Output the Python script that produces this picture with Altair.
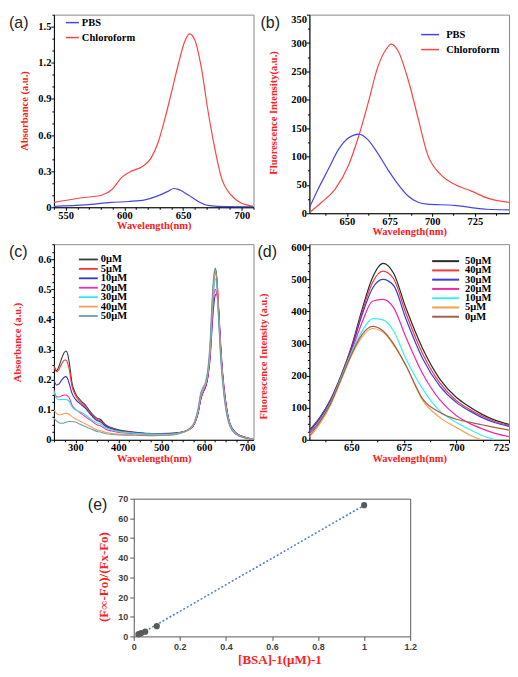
import altair as alt
import pandas as pd

SERIF = "Liberation Serif"
SANS = "Liberation Sans"
TITLE_RED = "#ff2020"
BLUE = "#4646e6"
RED = "#fb4646"

# ---------------- (a) absorbance, PBS vs chloroform ----------------
a_chl_wl = [540, 561, 581, 589.5, 598, 606, 615, 622, 629, 634.5, 640, 646, 651, 655.5, 660, 665.5, 671, 677, 682.5, 691, 699.5, 710]
a_chl = [0.040, 0.075, 0.102, 0.148, 0.25, 0.30, 0.336, 0.398, 0.546, 0.734, 0.949, 1.19, 1.366, 1.44, 1.39, 1.164, 0.814, 0.49, 0.25, 0.10, 0.035, 0.008]
a_pbs_wl = [540, 567, 589, 603.5, 617.5, 629, 637.5, 642, 646, 654.5, 663, 671, 688, 710]
a_pbs = [0.008, 0.019, 0.040, 0.048, 0.062, 0.097, 0.134, 0.156, 0.148, 0.102, 0.048, 0.016, 0.005, 0.003]
a_names = ["PBS", "Chloroform"]
a_colors = [BLUE, RED]

# ---------------- (b) fluorescence, PBS vs chloroform ----------------
b_chl_wl = [628, 635, 643, 651, 657, 662.5, 668, 673, 676, 680, 686, 692, 697, 705, 713, 723, 732, 745]
b_chl = [1, 19, 42, 85, 137, 195, 257, 289, 298, 286, 234, 164, 106, 68, 51, 39, 27, 19]
b_pbs_wl = [628, 633, 639, 645, 651, 657, 662.5, 668, 674, 680, 686, 692, 697, 713, 723, 732, 745]
b_pbs = [10, 42, 77, 112, 133, 139.5, 129, 106, 77, 51, 30, 19, 16, 14, 10, 7, 6]

# ---------------- (c) absorbance vs BSA concentration ----------------
c_wl_uv = [250, 256, 262, 268, 274, 278, 282, 286, 292, 300, 311, 323, 338, 350, 358, 370, 385, 400, 440, 480]
c_wl_vis = [520, 545, 565, 578, 586, 592, 598, 604, 609, 614, 618, 622, 626, 630, 634, 638, 643, 650, 660, 675, 695, 715]
c_0uM = [0.249, 0.23, 0.245, 0.27, 0.29, 0.295, 0.285, 0.255, 0.19, 0.155, 0.133, 0.116, 0.088, 0.072, 0.068, 0.05, 0.04, 0.033, 0.025, 0.021,
         0.022, 0.025, 0.035, 0.055, 0.09, 0.135, 0.16, 0.18, 0.22, 0.30, 0.41, 0.52, 0.57, 0.53, 0.42, 0.31, 0.21, 0.12, 0.05, 0.02, 0.008, 0.002]
c_5uM = [0.243, 0.226, 0.235, 0.252, 0.264, 0.265, 0.255, 0.232, 0.178, 0.148, 0.127, 0.11, 0.084, 0.068, 0.064, 0.047, 0.038, 0.031, 0.024, 0.02,
         0.02, 0.024, 0.034, 0.055, 0.09, 0.135, 0.16, 0.18, 0.215, 0.29, 0.40, 0.50, 0.555, 0.53, 0.43, 0.32, 0.215, 0.125, 0.052, 0.021, 0.008, 0.002]
c_10uM = [0.199, 0.182, 0.186, 0.198, 0.208, 0.21, 0.203, 0.185, 0.155, 0.135, 0.12, 0.105, 0.08, 0.064, 0.06, 0.045, 0.036, 0.03, 0.023, 0.02,
          0.02, 0.024, 0.034, 0.055, 0.09, 0.135, 0.16, 0.178, 0.21, 0.27, 0.36, 0.44, 0.48, 0.485, 0.43, 0.33, 0.225, 0.13, 0.055, 0.022, 0.008, 0.002]
c_20uM = [0.166, 0.144, 0.142, 0.146, 0.149, 0.149, 0.145, 0.138, 0.116, 0.102, 0.09, 0.077, 0.062, 0.05, 0.047, 0.036, 0.029, 0.025, 0.02, 0.018,
          0.018, 0.023, 0.034, 0.056, 0.092, 0.138, 0.162, 0.182, 0.215, 0.28, 0.38, 0.47, 0.50, 0.48, 0.41, 0.31, 0.215, 0.125, 0.053, 0.021, 0.008, 0.002]
c_30uM = [0.16, 0.138, 0.133, 0.134, 0.134, 0.134, 0.132, 0.126, 0.11, 0.1, 0.093, 0.083, 0.066, 0.057, 0.053, 0.041, 0.033, 0.028, 0.022, 0.019,
          0.018, 0.023, 0.035, 0.058, 0.097, 0.145, 0.168, 0.188, 0.225, 0.30, 0.41, 0.50, 0.535, 0.50, 0.40, 0.30, 0.205, 0.115, 0.05, 0.019, 0.007, 0.002]
c_40uM = [0.1, 0.088, 0.083, 0.084, 0.087, 0.088, 0.087, 0.084, 0.077, 0.07, 0.062, 0.053, 0.042, 0.033, 0.031, 0.025, 0.021, 0.019, 0.017, 0.016,
          0.016, 0.022, 0.035, 0.06, 0.1, 0.15, 0.172, 0.192, 0.232, 0.31, 0.43, 0.52, 0.56, 0.52, 0.41, 0.30, 0.2, 0.11, 0.047, 0.018, 0.007, 0.002]
c_50uM = [0.072, 0.063, 0.057, 0.055, 0.056, 0.058, 0.06, 0.061, 0.061, 0.059, 0.052, 0.044, 0.035, 0.028, 0.026, 0.021, 0.018, 0.016, 0.015, 0.014,
          0.015, 0.022, 0.036, 0.062, 0.105, 0.155, 0.176, 0.196, 0.24, 0.33, 0.45, 0.54, 0.57, 0.51, 0.39, 0.28, 0.19, 0.105, 0.044, 0.017, 0.006, 0.002]
c_labels = ["0μM", "5μM", "10μM", "20μM", "30μM", "40μM", "50μM"]
c_colors = ["#3a3a3a", "#ff3030", "#3535c8", "#ff2aa0", "#2ee8e8", "#f5a05a", "#6b9fa8"]

# ---------------- (d) fluorescence vs BSA concentration ----------------
d_wl = [630, 635, 640, 645, 650, 655, 660, 665, 670, 676, 684, 692, 700, 706, 712, 718, 725]
d_50uM = [30, 70, 125, 200, 290, 405, 505, 550, 520, 410, 283, 190, 132, 104, 80, 62, 48]
d_40uM = [28, 68, 122, 197, 286, 396, 490, 526, 503, 393, 267, 178, 122, 96, 75, 58, 45]
d_30uM = [26, 66, 120, 195, 282, 388, 472, 500, 482, 376, 252, 168, 116, 91, 70, 54, 42]
d_20uM = [12, 55, 112, 190, 274, 365, 432, 438, 413, 319, 205, 125, 75, 52, 35, 21, 10]
d_10uM = [18, 60, 115, 192, 272, 338, 378, 374, 340, 252, 158, 90, 54, 33, 14, 1, None]
d_5uM = [8, 50, 108, 185, 262, 320, 347, 336, 296, 231, 122, 70, 38, 16, 0, None, None]
d_0uM = [20, 58, 112, 188, 266, 328, 354, 340, 300, 231, 127, 86, 64, 55, 47, 39, 30]
d_labels = ["50μM", "40μM", "30μM", "20μM", "10μM", "5μM", "0μM"]
d_colors = ["#2a2a2a", "#f23a3a", "#3b3be0", "#ee2aa8", "#3af0f0", "#f5a050", "#a0624a"]

# ---------------- (e) double reciprocal plot ----------------
e_x = [0.02, 0.025, 0.033, 0.05, 0.1, 1.0]
e_y = [1.1, 1.3, 1.7, 2.4, 5.2, 66.7]

# ---------------- tick lists ----------------
a_x_major = [550, 600, 650, 700]
a_x_ticks = list(range(540, 711, 10))
a_y_major = [0, 0.3, 0.6, 0.9, 1.2, 1.5]
a_y_ticks = [round(0.1 * i, 3) for i in range(17)]
b_x_major = [650, 675, 700, 725]
b_x_ticks = [637.5 + 12.5 * i for i in range(9)]
b_y_major = [0, 50, 100, 150, 200, 250, 300, 350]
b_y_ticks = list(range(0, 351, 25))
c_x_major = [300, 400, 500, 600, 700]
c_x_ticks = list(range(250, 711, 25))
c_y_major = [0, 0.1, 0.2, 0.3, 0.4, 0.5, 0.6]
c_y_ticks = [round(0.025 * i, 4) for i in range(27)]
d_x_major = [650, 675, 700, 725]
d_x_ticks = [637.5 + 12.5 * i for i in range(8)]
d_y_major = [0, 100, 200, 300, 400, 500, 600]
d_y_ticks = list(range(0, 601, 25))
e_x_ticks = [0, 0.2, 0.4, 0.6, 0.8, 1.0, 1.2]
e_y_ticks = [0, 10, 20, 30, 40, 50, 60, 70]

ROW_GAP = 0      # spacing between the rows (full bounds)
E_TOP = 33       # plot top of (e) inside its row
E_H = 138        # plot height of (e)
E_SHIFT = 80     # horizontal offset of (e) from the left column


def long_df(pairs):
    frames = []
    for name, xs, ys in pairs:
        frames.append(pd.DataFrame({"wl": xs, "v": ys, "s": name}))
    return pd.concat(frames, ignore_index=True).dropna()


def minor_axis(majors, values, title, **kw):
    js = "[" + ",".join(str(m) for m in majors) + "]"
    return alt.Axis(
        values=values, labelOverlap=False,
        labelExpr=f"indexof({js}, datum.value) >= 0 ? '' + datum.value : ''",
        tickDash={"condition": {"test": f"indexof({js}, datum.value) < 0", "value": [2, 10]}, "value": [3, 0]},
        tickSize=3, tickColor="black", domainColor="black", grid=False,
        labelFont=SERIF, labelFontWeight="bold", labelFontSize=10.5, labelColor="black", labelPadding=0,
        title=title, titleFont=SERIF, titleFontWeight="bold", titleFontSize=10.5, titleColor=TITLE_RED,
        titlePadding=0, **kw)


def left_axis(majors, values, title, tx, ty, **kw):
    return minor_axis(majors, values, title, titleX=tx, titleY=ty, titleAngle=270,
                      titleAlign="center", titleBaseline="bottom", **kw)


def manual_legend(names, colors, x0, x1, xt, y0, step, sw, fs):
    layers = []
    for k, (name, col) in enumerate(zip(names, colors)):
        df = pd.DataFrame({"s": [name]})
        yk = y0 + step * k
        layers.append(alt.Chart(df).mark_rule(strokeWidth=sw, color=col).encode(
            x=alt.value(x0), x2=alt.value(x1), y=alt.value(yk)))
        layers.append(alt.Chart(df).mark_text(
            align="left", baseline="middle", font=SERIF, fontWeight="bold", fontSize=fs, color="black"
        ).encode(x=alt.value(xt), y=alt.value(yk), text="s:N"))
    return layers


def panel_label(text, x, y):
    return alt.Chart(pd.DataFrame({"t": [text]})).mark_text(
        align="left", baseline="middle", font=SANS, fontSize=16, color="#222222"
    ).encode(x=alt.value(x), y=alt.value(y), text="t:N")


def spectrum_panel(df, xdom, ydom, xaxis, yaxis, names, colors, legend_layers, label, w, h, sw):
    lines = alt.Chart(df).mark_line(strokeWidth=sw, interpolate="monotone", clip=True).encode(
        x=alt.X("wl:Q", scale=alt.Scale(domain=xdom, nice=False, zero=False), axis=xaxis),
        y=alt.Y("v:Q", scale=alt.Scale(domain=ydom, nice=False), axis=yaxis),
        color=alt.Color("s:N", scale=alt.Scale(domain=names, range=colors), legend=None),
    )
    return alt.layer(lines, *legend_layers, label).properties(width=w, height=h)


# ---- (a)
df_a = long_df([("Chloroform", a_chl_wl, a_chl), ("PBS", a_pbs_wl, a_pbs)])
chart_a = spectrum_panel(
    df_a, [540, 710], [0, 1.6],
    minor_axis(a_x_major, a_x_ticks, "Wavelength(nm)"),
    left_axis(a_y_major, a_y_ticks, "Absorbance (a.u.)", -24, 96),
    a_names, a_colors, manual_legend(a_names, a_colors, 12, 25, 28, 8, 15, 1.5, 10.5),
    panel_label("(a)", -45, 8), 200, 193, 1.2)

# ---- (b)
df_b = long_df([("Chloroform", b_chl_wl, b_chl), ("PBS", b_pbs_wl, b_pbs)])
chart_b = spectrum_panel(
    df_b, [628, 745], [0, 350],
    minor_axis(b_x_major, b_x_ticks, "Wavelength(nm)"),
    left_axis(b_y_major, b_y_ticks, "Fluorescence Intensity(a.u.)", -31, 98,
              labelBaseline={"condition": {"test": "datum.value == 350", "value": "top"},
                             "value": "middle"}),
    a_names, a_colors, manual_legend(a_names, a_colors, 112, 130, 137, 20, 15, 1.5, 10.5),
    panel_label("(b)", -49, 8), 200, 199, 1.2)

# ---- (c)
c_wl = c_wl_uv + c_wl_vis
df_c = long_df([(n, c_wl, v) for n, v in zip(c_labels, [c_0uM, c_5uM, c_10uM, c_20uM, c_30uM, c_40uM, c_50uM])])
chart_c = spectrum_panel(
    df_c, [250, 715], [0, 0.65],
    minor_axis(c_x_major, c_x_ticks, "Wavelength(nm)"),
    left_axis(c_y_major, c_y_ticks, "Absorbance (a.u.)", -31, 98),
    c_labels, c_colors, manual_legend(c_labels, c_colors, 25, 44, 47, 15.3, 9.45, 1.8, 10.5),
    panel_label("(c)", -45, 8), 200, 196, 1.1)

# ---- (d)
df_d = long_df([(n, d_wl, v) for n, v in zip(d_labels, [d_50uM, d_40uM, d_30uM, d_20uM, d_10uM, d_5uM, d_0uM])])
chart_d = spectrum_panel(
    df_d, [630, 725], [0, 610],
    minor_axis(d_x_major, d_x_ticks, "Wavelength(nm)"),
    left_axis(d_y_major, d_y_ticks, "Fluorescence Intensity (a.u.)", -41, 112),
    d_labels, d_colors, manual_legend(d_labels, d_colors, 123, 150, 156, 17, 9.28, 2, 10.5),
    panel_label("(d)", -52, 8), 200, 196, 1.2)

# ---- (e)
df_e = pd.DataFrame({"x": e_x, "y": e_y})
e_common = dict(labelFont=SANS, labelFontWeight="bold", labelFontSize=9, labelColor="#404040",
                domainColor="#595959", tickColor="#595959", tickSize=4, grid=False,
                titleFont=SERIF, titleFontWeight="bold", titleFontSize=13, titleColor=TITLE_RED)
pts_e = alt.Chart(df_e).mark_circle(size=38, color="#5a5a5a", opacity=1).encode(
    x=alt.X("x:Q", scale=alt.Scale(domain=[0, 1.2], nice=False, zero=False),
            axis=alt.Axis(orient="bottom", values=e_x_ticks, format="~g", labelFlush=False,
                          labelOverlap=False, title="[BSA]-1(μM)-1", titleX=146, titlePadding=2, **e_common)),
    y=alt.Y("y:Q", scale=alt.Scale(domain=[0, 70], range=[E_TOP + E_H, E_TOP], nice=False),
            axis=alt.Axis(orient="left", values=e_y_ticks, labelOverlap=False,
                          title="(F∞-Fo)/(Fx-Fo)", titleX=-23, titleY=E_TOP + 78, titleAngle=270,
                          titleAlign="center", titleBaseline="bottom", **e_common)),
)
trend_e = alt.Chart(df_e).transform_regression("x", "y").mark_line(
    color="#4f81bd", strokeDash=[2, 2], strokeWidth=1.5
).encode(
    x=alt.X("x:Q", axis=alt.Axis(orient="top", labels=False, ticks=False, title=None,
                                 domainColor="#595959", offset=-E_TOP, grid=False)),
    y=alt.Y("y:Q", axis=alt.Axis(orient="right", labels=False, ticks=False, title=None,
                                 domainColor="#595959", grid=False)),
)
chart_e = alt.layer(trend_e, pts_e, panel_label("(e)", -46, E_TOP + 6)).resolve_axis(
    x="independent", y="independent"
).properties(width=277, height=E_TOP + E_H, view=alt.ViewBackground(stroke=None))

spacer = alt.Chart(pd.DataFrame({"v": [0]})).mark_point(
    size=1, filled=True, color="white", opacity=1, strokeWidth=0
).encode(x=alt.value(0), y=alt.value(0)).properties(
    width=E_SHIFT, height=10, view=alt.ViewBackground(stroke=None))

row1 = alt.hconcat(chart_a, chart_b, spacing=56, bounds="flush").resolve_scale(color="independent")
row2 = alt.hconcat(chart_c, chart_d, spacing=56, bounds="flush").resolve_scale(color="independent")
row3 = alt.hconcat(spacer, chart_e, spacing=0, bounds="flush")

chart = alt.vconcat(row1, row2, row3, spacing=ROW_GAP).properties(padding=0).resolve_scale(
    color="independent"
).configure_view(stroke="#8c8c8c", strokeWidth=1)

chart.save("out.html", embed_options={"renderer": "svg", "actions": False})
